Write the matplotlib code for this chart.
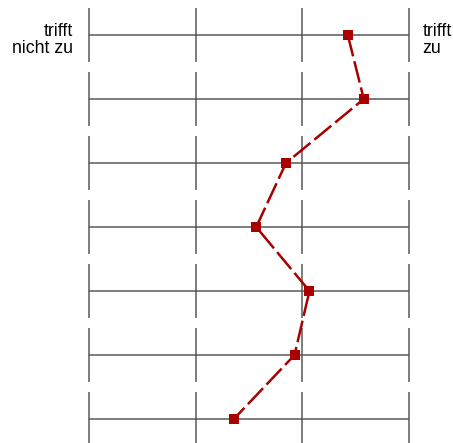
import numpy as np
import matplotlib.pyplot as plt

plt.rcParams['font.family'] = ['Liberation Sans', 'DejaVu Sans']

# data: one mean score per item (scale 1 = trifft nicht zu ... 4 = trifft zu)
items = ['1', '2', '3', '4', '5', '6', '7']
scores = [3.43, 3.58, 2.85, 2.57, 3.07, 2.93, 2.36]
scale = [1, 2, 3, 4]
label_left = 'trifft\nnicht zu'
label_right = 'trifft\nzu'

grid_col = '#585858'
line_col = '#a80000'

fig = plt.figure(figsize=(4.53, 4.43), dpi=100)
W, H = 453, 443
left_px, right_px = 89, 408.5
ax = fig.add_axes([left_px / W, 0, (right_px - left_px) / W, 1])

n = len(items)
rows = np.arange(n)
ax.set_xlim(scale[0], scale[-1])
ax.set_ylim((H - 35) / 64, -35 / 64)
ax.axis('off')

# grid: horizontal line per item, vertical segments per item
for r in rows:
    ax.plot([scale[0], scale[-1]], [r, r], color=grid_col, lw=1.1, zorder=1,
            clip_on=False, solid_capstyle='butt')
    for s in scale:
        ax.plot([s, s], [r - 0.42, r + 0.42], color=grid_col, lw=1.1, zorder=1,
                clip_on=False, solid_capstyle='butt')

# profile line
ln, = ax.plot(scores, rows, color=line_col, lw=1.8, ls='--', marker='s',
              markersize=6.5, markeredgewidth=0, zorder=3, clip_on=False)
ln.set_dashes((8.8, 2.0))

ax.text(-16 / ((right_px - left_px) / 3) + scale[0], 0.08, label_left,
        ha='right', va='center', fontsize=12.8, linespacing=1.05,
        multialignment='right')
ax.text(scale[-1] + 14 / ((right_px - left_px) / 3), 0.08, label_right,
        ha='left', va='center', fontsize=12.8, linespacing=1.05,
        multialignment='left')

fig.savefig('out.png', dpi=100)
